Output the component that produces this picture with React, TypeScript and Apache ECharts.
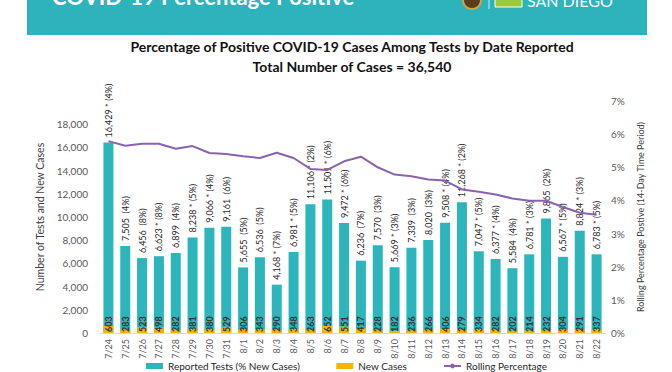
import React, { useEffect, useRef } from "react";
import * as echarts from "echarts";

const dates = ["7/24","7/25","7/26","7/27","7/28","7/29","7/30","7/31","8/1","8/2","8/3","8/4","8/5","8/6","8/7","8/8","8/9","8/10","8/11","8/12","8/13","8/14","8/15","8/16","8/17","8/18","8/19","8/20","8/21","8/22"];
const reportedTests = [16429,7505,6456,6623,6899,8238,9066,9161,5655,6536,4168,6981,11106,11501,9472,6236,7570,5669,7339,8020,9508,11268,7047,6377,5584,6781,9865,6567,8824,6783];
const starred = [1,0,0,1,0,1,1,0,0,0,1,1,1,1,1,0,0,1,0,0,1,1,1,1,0,1,0,1,1,1];
const pctNew = [4,4,8,8,4,5,4,6,5,5,7,5,2,6,6,7,3,3,3,3,4,2,5,4,4,3,2,5,3,5];
const newCases = [603,283,523,498,282,381,380,529,306,343,290,348,263,652,551,417,228,182,236,266,406,279,334,282,202,214,232,304,291,337];
const rollingPct = [5.79,5.65,5.71,5.71,5.56,5.64,5.43,5.40,5.33,5.28,5.44,5.28,4.95,4.92,5.18,5.32,5.0,4.78,4.73,4.63,4.6,4.33,4.26,4.18,4.06,3.99,3.99,3.8,3.63,3.57];

const titleLine1 = "Percentage of Positive COVID-19 Cases Among Tests by Date Reported";
const titleLine2 = "Total Number of Cases = 36,540";
const headerText = "COVID-19 Percentage Positive";

const FONT = "Lato";

export default function App() {
  const ref = useRef<HTMLDivElement>(null);
  useEffect(() => {
    const chart = echarts.init(ref.current!, null, { renderer: "svg" });
    const fmt = (v: number) => v.toLocaleString("en-US");
    chart.setOption({
      animation: false,
      backgroundColor: "#ffffff",
      textStyle: { fontFamily: FONT },
      grid: { left: 100, right: 67, top: 101, bottom: 39, containLabel: false },
      graphic: [
        { type: "rect", shape: { x: 27, y: -2, width: 620, height: 37 }, style: { fill: "#2db3bb" } },
        { type: "text", x: 52, y: 7, style: { text: headerText, fill: "#ffffff", font: `bold 22px ${FONT}`, verticalAlign: "bottom" } },
        { type: "circle", shape: { cx: 472, cy: 0, r: 9 }, style: { fill: "#5a3d1a", stroke: "#c9a64a", lineWidth: 2 } },
        { type: "line", shape: { x1: 489, y1: -2, x2: 489, y2: 9 }, style: { stroke: "#cfeff1", lineWidth: 1 } },
        { type: "polygon", shape: { points: [[495, -2], [522, -2], [522, 7], [495, 7]] }, style: { fill: "#9cc83a", stroke: "#ffffff", lineWidth: 1 } },
        { type: "text", x: 527, y: 8, style: { text: "SAN DIEGO", fill: "#ffffff", font: `16px ${FONT}`, verticalAlign: "bottom" } },
        { type: "text", x: 352, y: 46, style: { text: titleLine1, fill: "#111111", font: `bold 14px ${FONT}`, align: "center", verticalAlign: "middle" } },
        { type: "text", x: 352, y: 66, style: { text: titleLine2, fill: "#111111", font: `bold 14px ${FONT}`, align: "center", verticalAlign: "middle" } },
      ],
      legend: {
        left: 141,
        top: 356,
        itemWidth: 17,
        itemHeight: 6,
        itemGap: 36,
        textStyle: { fontSize: 10, color: "#1f1f1f", fontFamily: FONT },
        data: [
          { name: "Reported Tests (% New Cases)", icon: "rect" },
          { name: "New Cases", icon: "rect" },
          { name: "Rolling Percentage" },
        ],
      },
      xAxis: {
        type: "category",
        data: dates,
        axisTick: { show: false },
        axisLine: { lineStyle: { color: "#d9d9d9" } },
        axisLabel: { rotate: 90, fontSize: 9, color: "#595959", margin: 6, fontFamily: FONT },
      },
      yAxis: [
        {
          type: "value",
          min: 0,
          max: 20000,
          interval: 2000,
          name: "Number of Tests and New Cases",
          nameLocation: "middle",
          nameGap: 45,
          nameTextStyle: { fontSize: 10.5, color: "#404040", fontFamily: FONT },
          splitLine: { show: false },
          axisLine: { show: false },
          axisTick: { show: false },
          axisLabel: { showMaxLabel: false, fontSize: 10, color: "#595959", formatter: (v: number) => fmt(v), margin: 12 },
        },
        {
          type: "value",
          min: 0,
          max: 7,
          interval: 1,
          position: "right",
          name: "Rolling Percentage Postive (14-Day Time Period)",
          nameLocation: "middle",
          nameRotate: 90,
          nameGap: 15,
          nameTextStyle: { fontSize: 9, color: "#404040", fontFamily: FONT },
          splitLine: { show: false },
          axisLine: { show: false },
          axisTick: { show: false },
          axisLabel: { fontSize: 10, color: "#595959", formatter: "{value}%", margin: 6 },
        },
      ],
      series: [
        {
          name: "Reported Tests (% New Cases)",
          type: "bar",
          data: reportedTests,
          barWidth: 10,
          barGap: "-100%",
          itemStyle: { color: "#2cb5bb" },
          label: {
            show: true,
            position: "top",
            rotate: 90,
            align: "left",
            verticalAlign: "middle",
            distance: 5,
            fontSize: 9,
            color: "#262626",
            fontFamily: FONT,
            formatter: (p: any) => {
              const i = p.dataIndex;
              return `${fmt(reportedTests[i])}${starred[i] ? " * " : "  "}(${pctNew[i]}%)`;
            },
          },
        },
        {
          name: "New Cases",
          type: "bar",
          data: newCases,
          barWidth: 10,
          barGap: "-100%",
          itemStyle: { color: "#f6b400" },
          label: {
            show: true,
            position: "insideBottom",
            rotate: 90,
            align: "left",
            verticalAlign: "middle",
            distance: 1,
            fontSize: 9,
            fontWeight: "bold",
            color: "#333333",
            fontFamily: FONT,
          },
        },
        {
          name: "Rolling Percentage",
          type: "line",
          yAxisIndex: 1,
          data: rollingPct,
          symbol: "none",
          itemStyle: { color: "#8a63b0" },
          lineStyle: { color: "#8a63b0", width: 2 },
        },
      ],
    });
    return () => chart.dispose();
  }, []);
  return <div ref={ref} style={{ position: "fixed", left: 0, top: 0, width: 672, height: 372 }} />;
}
